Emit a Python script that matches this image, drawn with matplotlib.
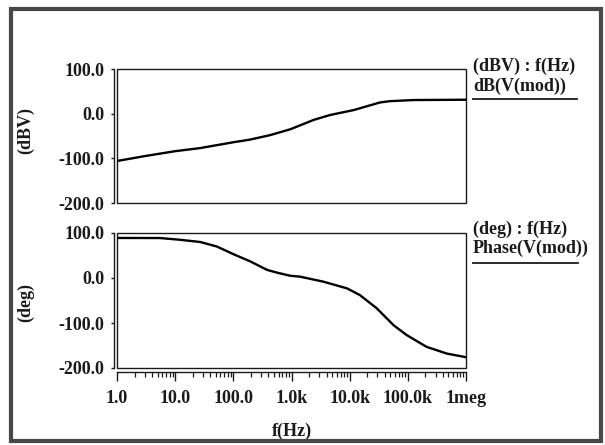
import matplotlib.pyplot as plt
from matplotlib.patches import Rectangle
from matplotlib.lines import Line2D
from matplotlib.ticker import LogLocator, FixedLocator

# magnitude trace dB(V(mod))
freq_db = [1, 3, 10, 27, 100, 195, 430, 950, 2400, 4600, 11700, 33000, 49000, 126000, 1000000]
mag_db = [-106, -95, -84, -77, -64, -58, -48, -35, -14, -3, 8, 25, 28, 30.5, 31.2]

# phase trace Phase(V(mod))
freq_ph = [1, 5.5, 12, 27, 52, 100, 195, 380, 560, 950, 1400, 3500, 9000, 15000,
           29000, 57000, 96000, 210000, 470000, 1000000]
phase_deg = [89, 88.8, 85, 80, 70, 53, 37, 18, 12, 5, 3, -8, -23, -38,
             -67, -105, -127, -153, -168, -176]

x_ticks = [1, 10, 100, 1e3, 1e4, 1e5, 1e6]
x_labels = ["1.0", "10.0", "100.0", "1.0k", "10.0k", "100.0k", "1meg"]
y_ticks = [100, 0, -100, -200]
y_labels = ["100.0", "0.0", "-100.0", "-200.0"]

W, H = 605, 445
plt.rcParams['font.family'] = ['Liberation Serif', 'DejaVu Serif']
plt.rcParams['font.weight'] = 'bold'
fs = 13
ink = '#1a1a1a'

fig = plt.figure(figsize=(W / 100, H / 100), dpi=100)
fig.patch.set_facecolor('white')

# outer frame
fig.patches.append(Rectangle((11.5 / W, 1 - 441 / H), 589.5 / W, 432 / H,
                             transform=fig.transFigure, fill=False,
                             edgecolor='#474747', lw=3.0))


def box(top, bottom):
    return [117 / W, 1 - bottom / H, (466 - 117) / W, (bottom - top) / H]


def setup(ax, show_x):
    ax.set_xscale('log')
    ax.set_xlim(1, 1e6)
    ax.set_ylim(-200, 100)
    ax.spines['top'].set_visible(False)
    ax.spines['right'].set_visible(False)
    # plot frame, the axis lines sit just outside it
    ax.add_patch(Rectangle((0, 0), 1, 1, transform=ax.transAxes, fill=False,
                           edgecolor=ink, lw=1.0, clip_on=False))
    ax.spines['left'].set_position(('outward', 2.5))
    ax.spines['left'].set_color(ink)
    ax.spines['left'].set_linewidth(1.0)
    ax.yaxis.set_major_locator(FixedLocator(y_ticks))
    ax.set_yticklabels(y_labels, fontsize=fs, fontweight='bold', color=ink)
    ax.tick_params(axis='y', length=2.5, width=1.0, color=ink, pad=4)
    if show_x:
        ax.spines['bottom'].set_position(('outward', 3.2))
        ax.spines['bottom'].set_color(ink)
        ax.spines['bottom'].set_linewidth(1.0)
        ax.xaxis.set_major_locator(FixedLocator(x_ticks))
        ax.xaxis.set_minor_locator(LogLocator(base=10, subs=range(2, 10),
                                              numticks=100))
        ax.set_xticklabels(x_labels, fontsize=fs, fontweight='bold', color=ink)
        ax.tick_params(axis='x', which='major', direction='out', length=6.5,
                       width=1.0, color=ink, pad=6)
        ax.tick_params(axis='x', which='minor', direction='out', length=3.8,
                       width=0.9, color=ink)
    else:
        ax.spines['bottom'].set_visible(False)
        ax.tick_params(axis='x', which='both', bottom=False,
                       labelbottom=False)


ax1 = fig.add_axes(box(69, 203))
setup(ax1, False)
ax1.plot(freq_db, mag_db, color='black', lw=1.7)
ax1.set_ylabel("(dBV)", fontsize=fs, fontweight='bold', color=ink)
ax1.yaxis.set_label_coords(34 / W, 1 - 130 / H, transform=fig.transFigure)

ax2 = fig.add_axes(box(233, 368))
setup(ax2, True)
ax2.plot(freq_ph, phase_deg, color='black', lw=1.7)
ax2.set_ylabel("(deg)", fontsize=fs, fontweight='bold', color=ink)
ax2.yaxis.set_label_coords(34 / W, 1 - 303 / H, transform=fig.transFigure)
ax2.set_xlabel("f(Hz)", fontsize=fs, fontweight='bold', color=ink)
ax2.xaxis.set_label_coords(292 / W, 1 - 423 / H, transform=fig.transFigure)

# trace captions on the right
for txt, y in [("(dBV) : f(Hz)", 66), ("dB(V(mod))", 86),
               ("(deg) : f(Hz)", 229), ("Phase(V(mod))", 248.5)]:
    fig.text(473 / W, 1 - y / H, txt, fontsize=fs, fontweight='bold',
             color=ink, ha='left', va='center')
for y, x2 in [(99.3, 577), (263.3, 578)]:
    fig.add_artist(Line2D([473 / W, x2 / W], [1 - y / H, 1 - y / H],
                          transform=fig.transFigure, color=ink, lw=1.3))

fig.savefig("out.png", dpi=100)
